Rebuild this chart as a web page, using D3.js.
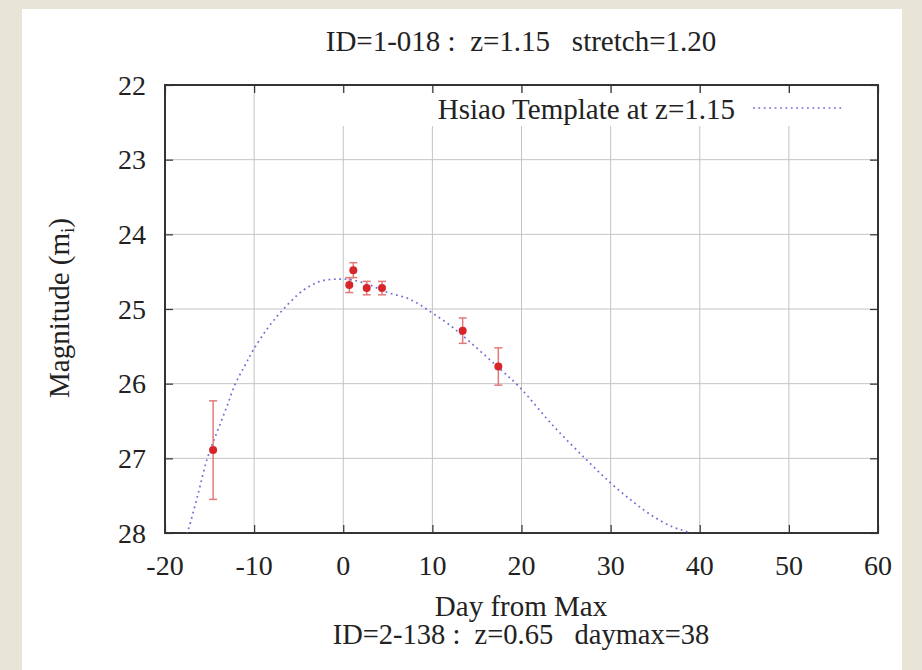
<!DOCTYPE html>
<html>
<head>
<meta charset="utf-8">
<script src="https://cdn.jsdelivr.net/npm/d3@7"></script>
<style>
  body{margin:0;background:#e9e5d6;}
  text{font-family:"Liberation Serif","DejaVu Serif",serif;fill:#222;white-space:pre;}
</style>
</head>
<body>
<div id="chart"></div>
<script>
// tick values
var xTicks=[-20,-10,0,10,20,30,40,50,60];
var yTicks=[22,23,24,25,26,27,28];

// observed points (day, magnitude, error)
var obsDay=[-14.6,0.68,1.13,2.63,4.35,13.4,17.4];
var obsMag=[26.89,24.68,24.48,24.72,24.72,25.29,25.77];
var obsErr=[0.66,0.10,0.10,0.09,0.09,0.17,0.25];

// Hsiao template
var tplDay=[-18,-17.4,-16.3,-15.25,-14.2,-13.1,-12.1,-11,-10.1,-8.5,-6.7,-4.5,-2.6,-0.7,1,3,5,7.5,9.7,12,14.2,17,19.8,23.6,27.3,30,32.5,34.8,37,38.5,40];
var tplMag=[28.15,27.96,27.48,27.0,26.66,26.32,26.0,25.75,25.55,25.26,25.0,24.75,24.63,24.60,24.61,24.68,24.78,24.87,25.03,25.22,25.44,25.74,26.05,26.57,27.02,27.33,27.58,27.78,27.92,27.98,28.05];

var titleTop="ID=1-018 :  z=1.15   stretch=1.20";
var titleBottom="ID=2-138 :  z=0.65   daymax=38";
var xLabel="Day from Max";
var legendLabel="Hsiao Template at z=1.15";

var W=922,H=670;
var plot={left:165,right:878,top:85,bottom:533};

var svg=d3.select("#chart").append("svg")
    .attr("width",W)
    .attr("height",H);

// slide panel
svg.append("rect").attr("x",22).attr("y",9).attr("width",880).attr("height",H-9).attr("fill","#fff");

var x=d3.scaleLinear().domain([-20,60]).range([plot.left,plot.right]);
var y=d3.scaleLinear().domain([22,28]).range([plot.top,plot.bottom]);

// grid
var grid=svg.append("g").attr("stroke","#c4c4c4").attr("stroke-width",1);
grid.selectAll(".gx").data(xTicks.slice(1,-1)).enter().append("line")
    .attr("x1",function(d){return x(d);}).attr("x2",function(d){return x(d);})
    .attr("y1",plot.top).attr("y2",plot.bottom);
grid.selectAll(".gy").data(yTicks.slice(1,-1)).enter().append("line")
    .attr("x1",plot.left).attr("x2",plot.right)
    .attr("y1",function(d){return y(d);}).attr("y2",function(d){return y(d);});

// key area hides the grid
svg.append("rect").attr("x",330).attr("y",93).attr("width",plot.right-331).attr("height",33).attr("fill","#fff");

// axes, ticks inward and mirrored
var tick=8;
svg.append("g").attr("transform","translate(0,"+plot.bottom+")")
    .call(d3.axisTop(x).tickValues(xTicks).tickSize(tick).tickFormat(""));
svg.append("g").attr("transform","translate(0,"+plot.top+")")
    .call(d3.axisBottom(x).tickValues(xTicks).tickSize(tick).tickFormat(""));
svg.append("g").attr("transform","translate("+plot.left+",0)")
    .call(d3.axisRight(y).tickValues(yTicks).tickSize(tick).tickFormat(""));
svg.append("g").attr("transform","translate("+plot.right+",0)")
    .call(d3.axisLeft(y).tickValues(yTicks).tickSize(tick).tickFormat(""));
svg.selectAll(".domain").remove();
svg.selectAll(".tick line").attr("stroke","#333").attr("stroke-width",1.2);

svg.append("rect").attr("x",plot.left).attr("y",plot.top)
    .attr("width",plot.right-plot.left).attr("height",plot.bottom-plot.top)
    .attr("fill","none").attr("stroke","#333").attr("stroke-width",2);

// tick labels
svg.append("g").selectAll("text").data(xTicks).enter().append("text")
    .attr("x",function(d){return x(d);}).attr("y",575)
    .attr("text-anchor","middle").attr("font-size",28)
    .text(function(d){return d;});
svg.append("g").selectAll("text").data(yTicks).enter().append("text")
    .attr("x",146).attr("y",function(d){return y(d);}).attr("dy","0.34em")
    .attr("text-anchor","end").attr("font-size",28)
    .text(function(d){return d;});

// titles
svg.append("text").attr("x",521).attr("y",51).attr("text-anchor","middle").attr("font-size",29).text(titleTop);
svg.append("text").attr("x",521).attr("y",616).attr("text-anchor","middle").attr("font-size",29).text(xLabel);
svg.append("text").attr("x",521).attr("y",644).attr("text-anchor","middle").attr("font-size",28.5).text(titleBottom);
var yl=svg.append("text").attr("transform","translate(69,308) rotate(-90)")
    .attr("text-anchor","middle").attr("font-size",29);
yl.append("tspan").text("Magnitude (m");
yl.append("tspan").attr("font-size",19).attr("dy",5).text("i");
yl.append("tspan").attr("dy",-5).text(")");

// template curve
var clip=svg.append("clipPath").attr("id","clip").append("rect")
    .attr("x",plot.left).attr("y",plot.top)
    .attr("width",plot.right-plot.left).attr("height",plot.bottom-plot.top);
var line=d3.line()
    .x(function(d,i){return x(tplDay[i]);})
    .y(function(d,i){return y(tplMag[i]);})
    .curve(d3.curveCatmullRom);
var dotted={stroke:"#6f6fd6",width:1.7,dash:"1.8,3.6"};
svg.append("path").datum(tplDay).attr("clip-path","url(#clip)")
    .attr("d",line).attr("fill","none")
    .attr("stroke",dotted.stroke).attr("stroke-width",dotted.width).attr("stroke-dasharray",dotted.dash);

// key
svg.append("text").attr("x",735).attr("y",119).attr("text-anchor","end").attr("font-size",29).text(legendLabel);
svg.append("line").attr("x1",753).attr("x2",843).attr("y1",108).attr("y2",108)
    .attr("stroke",dotted.stroke).attr("stroke-width",dotted.width).attr("stroke-dasharray",dotted.dash);

// data points with error bars
var pts=svg.append("g").selectAll("g").data(obsDay).enter().append("g");
pts.each(function(d,i){
  var g=d3.select(this);
  var cx=x(d),lo=y(obsMag[i]-obsErr[i]),hi=y(obsMag[i]+obsErr[i]);
  g.append("line").attr("x1",cx).attr("x2",cx).attr("y1",lo).attr("y2",hi);
  g.append("line").attr("x1",cx-4).attr("x2",cx+4).attr("y1",lo).attr("y2",lo);
  g.append("line").attr("x1",cx-4).attr("x2",cx+4).attr("y1",hi).attr("y2",hi);
  g.selectAll("line").attr("stroke","#e27a7a").attr("stroke-width",1.5);
  g.append("circle").attr("cx",cx).attr("cy",y(obsMag[i])).attr("r",4).attr("fill","#d6262a");
});
</script>
</body>
</html>
